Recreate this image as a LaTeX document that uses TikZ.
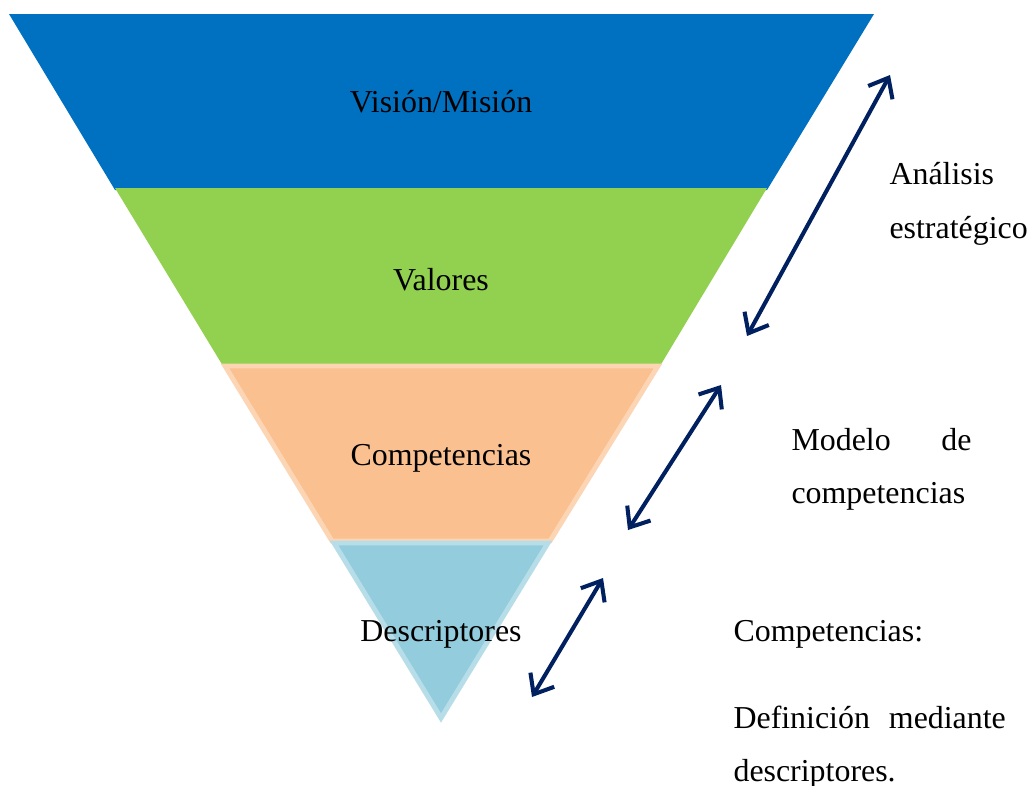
\documentclass[tikz,border=0pt]{standalone}
\usepackage{fontspec}
\setmainfont{Liberation Serif}
\usetikzlibrary{arrows.meta}
\definecolor{pBlue}{HTML}{0070C0}
\definecolor{pGreen}{HTML}{92D050}
\definecolor{pOrange}{HTML}{FAC090}
\definecolor{pOrangeEdge}{HTML}{FCD5B5}
\definecolor{pSky}{HTML}{93CDDD}
\definecolor{pSkyEdge}{HTML}{B7DEE8}
\definecolor{pNavy}{HTML}{002060}

\begin{document}
\begin{tikzpicture}[x=0.13mm, y=-0.13mm,
    every node/.style={inner sep=0pt, font=\fontsize{11.8}{14}\selectfont},
    bandlabel/.style={anchor=base},
    sidelabel/.style={anchor=base west},
    twoway/.style={pNavy, line width=1.5pt,
      {Straight Barb[length=2.2mm, width=3.6mm]}-{Straight Barb[length=2.2mm, width=3.6mm]}}]
    \useasboundingbox (0,0) rectangle (1030,785);
    % funnel bands, top to bottom
    \fill[pBlue] (9,14) -- (874,14) -- (767,190) -- (115,190) -- cycle;
    \fill[pGreen] (115,188) -- (767,188) -- (660,366) -- (223,366) -- cycle;
    \filldraw[fill=pOrange, draw=pOrangeEdge, line width=1.8pt] (225,366) -- (658,366) -- (550,541) -- (332,541) -- cycle;
    \filldraw[fill=pSky, draw=pSkyEdge, line width=1.8pt] (334,543) -- (548,543) -- (441,718) -- cycle;
    \node[bandlabel] (vision) at (441,112) {Visión/Misión};
    \node[bandlabel] (valores) at (441,290) {Valores};
    \node[bandlabel] (compet) at (441,465) {Competencias};
    \node[bandlabel] (descr) at (441,641) {Descriptores};
    % arrows beside the funnel
    \coordinate (a1top) at (890,75);
    \coordinate (a1bot) at (747,336);
    \coordinate (a2top) at (721,385);
    \coordinate (a2bot) at (628,530);
    \coordinate (a3top) at (603,578);
    \coordinate (a3bot) at (532,697);
    \draw[twoway] (a1bot) -- (a1top);
    \draw[twoway] (a2bot) -- (a2top);
    \draw[twoway] (a3bot) -- (a3top);
    % texts on the right
    \node[sidelabel] (analisis) at (889,184) {Análisis};
    \node[sidelabel] (estrat) at (889,238) {estratégico};
    \node[sidelabel, text width=2.34cm] (modelo) at (791,450) {Modelo\hfill de};
    \node[sidelabel] (modcomp) at (791,503) {competencias};
    \node[sidelabel] (compdots) at (733,641) {Competencias:};
    \node[sidelabel, text width=3.54cm] (defin) at (733,728) {Definición\hfill mediante};
    \node[sidelabel] (descdot) at (733,781) {descriptores.};
\end{tikzpicture}
\end{document}
